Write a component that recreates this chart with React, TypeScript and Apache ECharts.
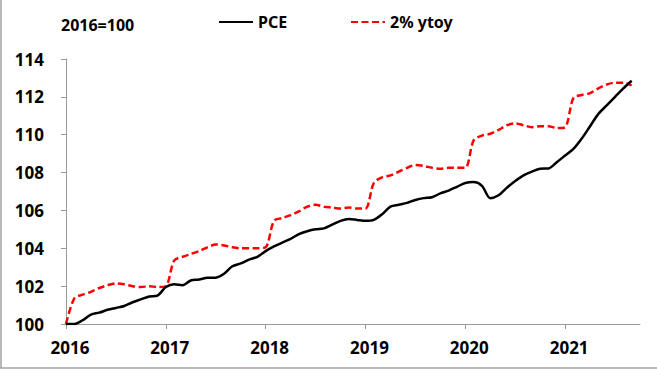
import React, { useEffect, useRef } from "react";
import * as echarts from "echarts";

const years = [2016, 2017, 2018, 2019, 2020, 2021];
// 70 monthly slots on the axis: Jan 2016 .. Oct 2021
const categories: string[] = [];
for (const y of years) {
  for (let m = 1; m <= 12; m++) {
    if (y === 2021 && m > 10) break;
    categories.push(`${y}-${String(m).padStart(2, "0")}`);
  }
}

const pce = [
  100.0, 100.0, 100.2, 100.5, 100.6, 100.75, 100.85, 100.95, 101.15, 101.3, 101.45, 101.5,
  101.95, 102.1, 102.05, 102.3, 102.35, 102.45, 102.45, 102.65, 103.05, 103.2, 103.4, 103.55,
  103.85, 104.1, 104.3, 104.5, 104.75, 104.9, 105.0, 105.05, 105.25, 105.45, 105.55, 105.5,
  105.45, 105.5, 105.8, 106.2, 106.3, 106.4, 106.55, 106.65, 106.7, 106.9, 107.05, 107.25,
  107.45, 107.5, 107.3, 106.65, 106.8, 107.2, 107.55, 107.85, 108.05, 108.2, 108.22, 108.55,
  108.9, 109.25, 109.8, 110.45, 111.1, 111.55, 112.0, 112.45, 112.85,
];

const ytoy = [
  100.0, 101.35, 101.55, 101.7, 101.9, 102.05, 102.15, 102.1, 102.0, 101.95, 102.0, 101.95,
  102.0, 103.35, 103.55, 103.7, 103.85, 104.05, 104.2, 104.15, 104.05, 104.0, 104.0, 104.0,
  104.05, 105.45, 105.6, 105.75, 105.95, 106.2, 106.3, 106.2, 106.15, 106.1, 106.15, 106.1,
  106.1, 107.45, 107.75, 107.85, 108.05, 108.25, 108.4, 108.35, 108.25, 108.2, 108.25, 108.25,
  108.25, 109.7, 109.95, 110.05, 110.25, 110.5, 110.6, 110.5, 110.4, 110.45, 110.45, 110.35,
  110.4, 111.95, 112.1, 112.2, 112.45, 112.65, 112.75, 112.75, 112.6,
];

const yTicks = { min: 100, max: 114, interval: 2 };
const titleText = "2016=100";
const FONT = "'Noto Sans', sans-serif";

export default function App() {
  const ref = useRef<HTMLDivElement>(null);
  useEffect(() => {
    if (!ref.current) return;
    const chart = echarts.init(ref.current, undefined, { renderer: "svg" });
    const axisColor = "#9a9a9a";
    const showYear = (idx: number) => idx % 12 === 0;
    const legendText = { fontFamily: FONT, fontSize: 16, fontWeight: "bold", color: "#000" };
    chart.setOption({
      animation: false,
      backgroundColor: "#fff",
      legend: [
        {
          data: ["PCE"],
          left: 218,
          top: 14,
          padding: 0,
          itemWidth: 34,
          itemHeight: 14,
          itemStyle: { opacity: 0 },
          textStyle: legendText,
        },
        {
          data: ["2% ytoy"],
          left: 350,
          top: 14,
          padding: 0,
          itemWidth: 34,
          itemHeight: 14,
          itemStyle: { opacity: 0 },
          textStyle: legendText,
        },
      ],
      grid: { left: 66, right: 17, top: 59, bottom: 47, containLabel: false },
      xAxis: {
        type: "category",
        data: categories,
        boundaryGap: false,
        axisLine: { show: true, lineStyle: { color: axisColor, width: 1 } },
        axisTick: { show: true, interval: (i: number) => showYear(i), length: 5, lineStyle: { color: axisColor } },
        axisLabel: {
          interval: (i: number) => showYear(i),
          formatter: (v: string) => v.slice(0, 4),
          margin: 15,
          padding: [0, 0, 0, 8],
          fontFamily: FONT,
          fontSize: 17,
          fontWeight: "bold",
          color: "#000",
        },
        splitLine: { show: false },
      },
      yAxis: {
        type: "value",
        min: yTicks.min,
        max: yTicks.max,
        interval: yTicks.interval,
        axisLine: { show: true, lineStyle: { color: axisColor, width: 1 } },
        axisTick: { show: true, length: 5, lineStyle: { color: axisColor } },
        axisLabel: {
          margin: 22,
          fontFamily: FONT,
          fontSize: 17,
          fontWeight: "bold",
          color: "#000",
        },
        splitLine: { show: false },
      },
      series: [
        {
          name: "PCE",
          type: "line",
          data: pce,
          symbol: "none",
          smooth: 0.3,
          lineStyle: { color: "#000", width: 2.5 },
          itemStyle: { color: "#000" },
          z: 3,
        },
        {
          name: "2% ytoy",
          type: "line",
          data: ytoy,
          symbol: "none",
          smooth: 0.3,
          lineStyle: { color: "#ff0000", width: 2.5, type: [7, 3.5] },
          itemStyle: { color: "#ff0000" },
          z: 2,
        },
      ],
      graphic: [
        {
          type: "text",
          x: 61,
          y: 17,
          style: { text: titleText, font: `bold 16px ${FONT}`, fill: "#000", textAlign: "left", textVerticalAlign: "top" },
        },
        { type: "line", shape: { x1: 1, y1: 0, x2: 1, y2: 368 }, style: { stroke: "#a0a0a0", lineWidth: 1.5 } },
        { type: "line", shape: { x1: 0, y1: 368, x2: 657, y2: 368 }, style: { stroke: "#a0a0a0", lineWidth: 1.5 } },
      ],
    });
    return () => chart.dispose();
  }, []);
  return (
    <div
      ref={ref}
      style={{ position: "absolute", left: 0, top: 0, width: 657, height: 371 }}
    />
  );
}
